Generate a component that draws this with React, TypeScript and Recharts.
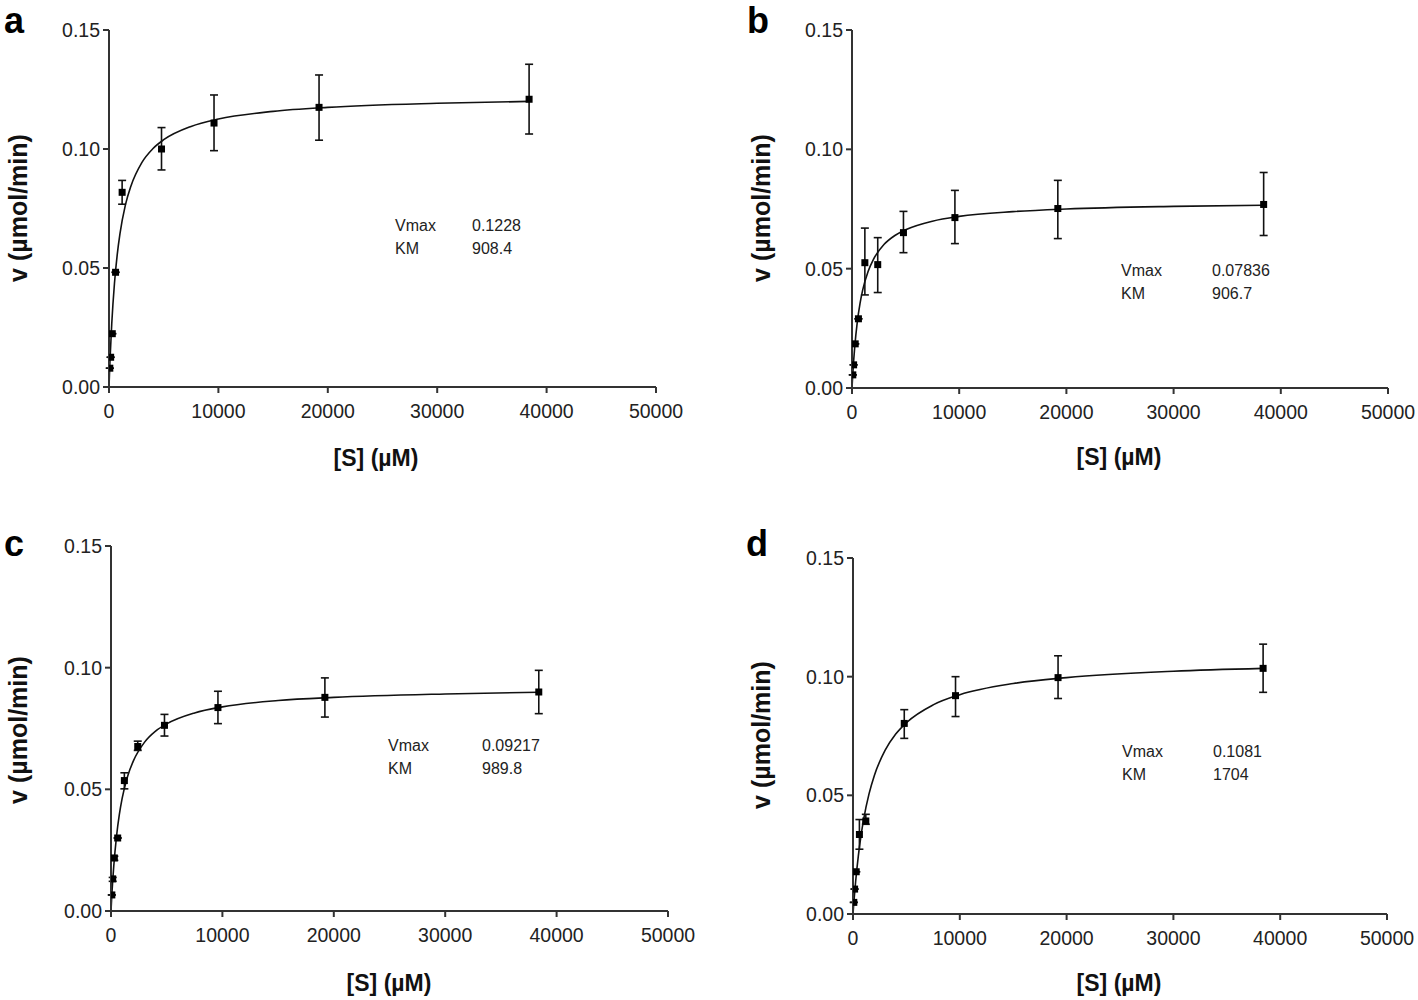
import React from "react";
import {
  ComposedChart,
  Line,
  Scatter,
  ErrorBar,
  XAxis,
  YAxis,
} from "recharts";

// ─── Data ────────────────────────────────────────────────────────────────────

const X_TICKS = [0, 10000, 20000, 30000, 40000, 50000];
const Y_TICKS = [0, 0.05, 0.1, 0.15];

// fitted curve at these [S]
const CURVE_S = [0, 50, 100, 250, 500, 750, 1000, 1500, 2000, 3000, 4000, 5000, 7500, 10000, 15000, 20000, 30000, 38400];
const CURVE_A = [0, 0.0064, 0.0122, 0.0265, 0.0436, 0.0555, 0.0643, 0.0765, 0.0844, 0.0943, 0.1001, 0.1039, 0.1095, 0.1126, 0.1158, 0.1175, 0.1192, 0.12];
const CURVE_B = [0, 0.0041, 0.0078, 0.0169, 0.0279, 0.0355, 0.0411, 0.0488, 0.0539, 0.0602, 0.0639, 0.0663, 0.0699, 0.0719, 0.0739, 0.075, 0.0761, 0.0766];
const CURVE_C = [0, 0.0044, 0.0085, 0.0186, 0.0309, 0.0397, 0.0463, 0.0555, 0.0616, 0.0693, 0.0739, 0.0769, 0.0814, 0.0839, 0.0865, 0.0878, 0.0892, 0.0899];
const CURVE_D = [0, 0.0031, 0.006, 0.0138, 0.0245, 0.033, 0.04, 0.0506, 0.0584, 0.0689, 0.0758, 0.0806, 0.0881, 0.0924, 0.0971, 0.0996, 0.1023, 0.1035];

// measured points (mean, lower end, upper end of error bar)
const S_A = [75, 150, 300, 600, 1200, 4800, 9600, 19200, 38400];
const V_A = [0.0079, 0.0125, 0.0224, 0.0482, 0.0818, 0.1, 0.1109, 0.1175, 0.1209];
const LO_A = [0.0079, 0.0125, 0.0224, 0.0482, 0.0768, 0.0912, 0.0993, 0.1037, 0.1063];
const HI_A = [0.0079, 0.0125, 0.0224, 0.0482, 0.0868, 0.109, 0.1227, 0.1311, 0.1356];

const S_B = [75, 150, 300, 600, 1200, 2400, 4800, 9600, 19200, 38400];
const V_B = [0.0055, 0.0097, 0.0185, 0.029, 0.0525, 0.0517, 0.0651, 0.0714, 0.0752, 0.0769];
const LO_B = [0.0055, 0.0097, 0.0185, 0.029, 0.039, 0.04, 0.0567, 0.0605, 0.0626, 0.0639];
const HI_B = [0.0055, 0.0097, 0.0185, 0.029, 0.067, 0.063, 0.074, 0.0828, 0.087, 0.0903];

const S_C = [75, 150, 300, 600, 1200, 2400, 4800, 9600, 19200, 38400];
const V_C = [0.0066, 0.0132, 0.0218, 0.03, 0.0536, 0.0676, 0.0763, 0.0836, 0.0878, 0.09];
const LO_C = [0.0066, 0.0122, 0.0208, 0.03, 0.0502, 0.066, 0.0719, 0.077, 0.0797, 0.0811];
const HI_C = [0.0066, 0.0138, 0.0225, 0.03, 0.0568, 0.0698, 0.0808, 0.0903, 0.0958, 0.0989];

const S_D = [75, 150, 300, 600, 1200, 4800, 9600, 19200, 38400];
const V_D = [0.0049, 0.0105, 0.0178, 0.0335, 0.0392, 0.0803, 0.092, 0.0996, 0.1035];
const LO_D = [0.0049, 0.0105, 0.0178, 0.0273, 0.0378, 0.074, 0.0832, 0.0908, 0.0934];
const HI_D = [0.0049, 0.0105, 0.0178, 0.0398, 0.042, 0.0861, 0.1, 0.1088, 0.1137];

const FONT = "'Liberation Sans', Arial, sans-serif";
const AXIS = "#333333";

// ─── Helpers ─────────────────────────────────────────────────────────────────

function toPoints(s: number[], v: number[], lo: number[], hi: number[]) {
  return s.map((x, i) => ({ s: x, v: v[i], err: [v[i] - lo[i], hi[i] - v[i]] }));
}

function toCurve(v: number[]) {
  return CURVE_S.map((x, i) => ({ s: x, v: v[i] }));
}

const SquareDot = (props: any) => {
  const { cx, cy } = props;
  if (cx == null || cy == null) return null;
  return <rect x={cx - 3.5} y={cy - 3.5} width={7} height={7} fill="#000" />;
};

// ─── Panel ───────────────────────────────────────────────────────────────────

interface PanelProps {
  letter: string;
  plot: { left: number; right: number; top: number; bottom: number };
  curve: number[];
  points: { s: number; v: number; err: number[] }[];
  vmax: string;
  km: string;
  statsAt: { x: number; y: number; valX: number };
  letterAt: { x: number; y: number };
  yTitleAt: { x: number; y: number };
  xTitleAt: { x: number; y: number };
}

const ML = 10;
const YW = 70;
const MT = 12;
const XH = 50;

function Panel(p: PanelProps) {
  const w = p.plot.right - p.plot.left + ML + YW + 30;
  const h = p.plot.bottom - p.plot.top + MT + XH + 10;
  const chartLeft = p.plot.left - ML - YW;
  const chartTop = p.plot.top - MT;
  const tickStyle = { fontSize: 19.5, fill: "#222", fontFamily: FONT };
  const statStyle: React.CSSProperties = {
    position: "absolute",
    fontFamily: FONT,
    fontSize: 16,
    color: "#222",
    lineHeight: 1,
    transform: "translateY(-50%)",
    whiteSpace: "nowrap",
  };
  return (
    <>
      <div style={{ position: "absolute", left: chartLeft, top: chartTop }}>
        <ComposedChart
          width={w}
          height={h}
          margin={{ top: MT, right: 30, left: ML, bottom: 10 }}
        >
          <XAxis
            type="number"
            dataKey="s"
            domain={[0, 50000]}
            ticks={X_TICKS}
            interval={0}
            allowDataOverflow
            height={XH}
            tick={tickStyle}
            tickSize={6}
            tickMargin={11}
            axisLine={{ stroke: AXIS, strokeWidth: 2 }}
            tickLine={{ stroke: AXIS, strokeWidth: 2 }}
          />
          <YAxis
            type="number"
            domain={[0, 0.15]}
            ticks={Y_TICKS}
            interval={0}
            allowDataOverflow
            width={YW}
            tick={tickStyle}
            tickSize={6}
            tickMargin={3}
            tickFormatter={(v: number) => v.toFixed(2)}
            axisLine={{ stroke: AXIS, strokeWidth: 2 }}
            tickLine={{ stroke: AXIS, strokeWidth: 2 }}
          />
          <Line
            data={toCurve(p.curve)}
            dataKey="v"
            type="monotone"
            dot={false}
            stroke="#111"
            strokeWidth={1.6}
            isAnimationActive={false}
          />
          <Scatter
            data={p.points}
            dataKey="v"
            shape={<SquareDot />}
            isAnimationActive={false}
          >
            <ErrorBar
              dataKey="err"
              direction="y"
              width={4}
              stroke="#111"
              strokeWidth={1.6}
              isAnimationActive={false}
            />
          </Scatter>
        </ComposedChart>
      </div>

      <div
        style={{
          position: "absolute",
          left: p.letterAt.x,
          top: p.letterAt.y,
          transform: "translate(-50%, -50%)",
          fontFamily: FONT,
          fontWeight: "bold",
          fontSize: 36,
          lineHeight: 1.3,
          color: "#000",
        }}
      >
        {p.letter}
      </div>

      <div
        style={{
          position: "absolute",
          left: p.yTitleAt.x,
          top: p.yTitleAt.y,
          transform: "translate(-50%, -50%) rotate(-90deg)",
          fontFamily: FONT,
          fontWeight: "bold",
          fontSize: 25,
          lineHeight: 1,
          whiteSpace: "nowrap",
          color: "#111",
        }}
      >
        v (µmol/min)
      </div>

      <div
        style={{
          position: "absolute",
          left: p.xTitleAt.x,
          top: p.xTitleAt.y,
          transform: "translate(-50%, -50%)",
          fontFamily: FONT,
          fontWeight: "bold",
          fontSize: 23,
          lineHeight: 1,
          whiteSpace: "nowrap",
          color: "#111",
        }}
      >
        [S] (µM)
      </div>

      <div style={{ ...statStyle, left: p.statsAt.x, top: p.statsAt.y }}>Vmax</div>
      <div style={{ ...statStyle, left: p.statsAt.valX, top: p.statsAt.y }}>{p.vmax}</div>
      <div style={{ ...statStyle, left: p.statsAt.x, top: p.statsAt.y + 23 }}>KM</div>
      <div style={{ ...statStyle, left: p.statsAt.valX, top: p.statsAt.y + 23 }}>{p.km}</div>
    </>
  );
}

// ─── App ─────────────────────────────────────────────────────────────────────

export default function App() {
  return (
    <div
      style={{
        position: "absolute",
        left: 0,
        top: 0,
        width: 1418,
        height: 1000,
        background: "#fff",
        overflow: "hidden",
      }}
    >
      <Panel
        letter="a"
        plot={{ left: 109, right: 656, top: 30, bottom: 387 }}
        curve={CURVE_A}
        points={toPoints(S_A, V_A, LO_A, HI_A)}
        vmax="0.1228"
        km="908.4"
        statsAt={{ x: 395, y: 226, valX: 472 }}
        letterAt={{ x: 14, y: 21 }}
        yTitleAt={{ x: 18, y: 208 }}
        xTitleAt={{ x: 376, y: 458 }}
      />
      <Panel
        letter="b"
        plot={{ left: 852, right: 1388, top: 30, bottom: 388 }}
        curve={CURVE_B}
        points={toPoints(S_B, V_B, LO_B, HI_B)}
        vmax="0.07836"
        km="906.7"
        statsAt={{ x: 1121, y: 271, valX: 1212 }}
        letterAt={{ x: 758, y: 21 }}
        yTitleAt={{ x: 761, y: 208 }}
        xTitleAt={{ x: 1119, y: 457 }}
      />
      <Panel
        letter="c"
        plot={{ left: 111, right: 668, top: 546, bottom: 911 }}
        curve={CURVE_C}
        points={toPoints(S_C, V_C, LO_C, HI_C)}
        vmax="0.09217"
        km="989.8"
        statsAt={{ x: 388, y: 746, valX: 482 }}
        letterAt={{ x: 14, y: 544 }}
        yTitleAt={{ x: 18, y: 730 }}
        xTitleAt={{ x: 389, y: 983 }}
      />
      <Panel
        letter="d"
        plot={{ left: 853, right: 1387, top: 558, bottom: 914 }}
        curve={CURVE_D}
        points={toPoints(S_D, V_D, LO_D, HI_D)}
        vmax="0.1081"
        km="1704"
        statsAt={{ x: 1122, y: 752, valX: 1213 }}
        letterAt={{ x: 757, y: 544 }}
        yTitleAt={{ x: 761, y: 735 }}
        xTitleAt={{ x: 1119, y: 983 }}
      />
    </div>
  );
}
